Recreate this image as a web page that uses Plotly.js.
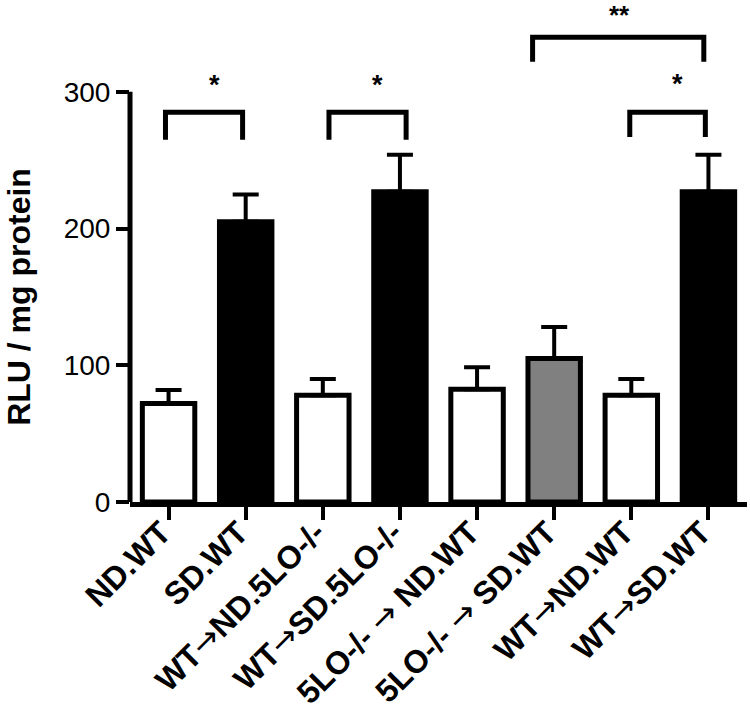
<!DOCTYPE html>
<html>
<head>
<meta charset="utf-8">
<script src="https://cdn.plot.ly/plotly-3.0.1.min.js"></script>
<style>html,body{margin:0;padding:0;background:#fff;}#chart{width:750px;height:713px;}</style>
</head>
<body>
<div id="chart"></div>
<script>
// ---- data ----
var categories = ["ND.WT", "SD.WT", "WT→ND.5LO-/-", "WT→SD.5LO-/-", "5LO-/- → ND.WT", "5LO-/- → SD.WT", "WT→ND.WT", "WT→SD.WT"];
var values = [72, 205, 78, 227, 82.5, 105, 78, 227];
var errors = [10, 20, 12, 27, 16, 23, 12, 27];
var barColors = ["#ffffff", "#000000", "#ffffff", "#000000", "#ffffff", "#808080", "#ffffff", "#000000"];
var yTicks = [0, 100, 200, 300];
// significance brackets
var sigFrom = [-0.04, 2.08, 5.98, 4.72];
var sigTo = [0.96, 3.08, 6.96, 6.94];
var sigTop = [285, 285, 285, 340];
var sigLeg = [265, 265, 267, 322];
var sigLabel = ["*", "*", "*", "**"];
var sigLabelX = [0.6, 2.71, 6.6, 5.85];
var sigLabelY = [305, 305, 306, 359];

var FONT = "Liberation Sans, Arial, Helvetica, sans-serif";

function tickText(s) {
  return s.split("→").map(function (p) { return "<b>" + p + "</b>"; })
    .join('<span style="font-family:DejaVu Sans;font-size:32px;font-weight:normal">→</span>');
}

var xIdx = categories.map(function (_, i) { return i; });

var trace = {
  type: "bar",
  x: xIdx,
  y: values,
  width: 0.68,
  marker: { color: barColors, line: { color: "#000", width: 5 } },
  error_y: {
    type: "data", symmetric: false, array: errors,
    arrayminus: values.map(function () { return 0; }),
    color: "#000", thickness: 4, width: 13
  },
  hoverinfo: "none"
};

var shapes = [];
shapes.push({ type: "line", xref: "paper", yref: "y", x0: 0, x1: 0, y0: 0, y1: yTicks[yTicks.length - 1], line: { color: "#000", width: 5 } });
var annotations = [];
for (var i = 0; i < sigFrom.length; i++) {
  shapes.push({ type: "path", xref: "x", yref: "y",
    path: "M " + sigFrom[i] + "," + sigLeg[i] + " L " + sigFrom[i] + "," + sigTop[i] + " L " + sigTo[i] + "," + sigTop[i] + " L " + sigTo[i] + "," + sigLeg[i],
    line: { color: "#000", width: 5 } });
  annotations.push({ xref: "x", yref: "y", x: sigLabelX[i], y: sigLabelY[i], text: sigLabel[i], showarrow: false,
    xanchor: "center", yanchor: "middle", yshift: (i === 3 ? -4 : 0),
    font: { family: FONT, size: (i === 3 ? 26 : 27), color: "#000", weight: "bold" } });
}
annotations.push({ xref: "paper", yref: "y", x: -0.18, y: 150, text: "<b>RLU / mg protein</b>", textangle: -90,
  showarrow: false, xanchor: "center", yanchor: "middle", font: { family: FONT, size: 32, color: "#000" } });

var layout = {
  width: 750, height: 713,
  margin: { l: 130, r: 3, t: 3, b: 211 },
  paper_bgcolor: "#fff", plot_bgcolor: "#fff",
  showlegend: false,
  font: { family: FONT, color: "#000" },
  xaxis: {
    range: [-0.5, 7.5], tickmode: "array", tickvals: xIdx, ticktext: categories.map(tickText),
    tickangle: -45, ticks: "outside", ticklen: 13, tickwidth: 4, tickcolor: "#000",
    ticklabelstandoff: -19, ticklabelshift: -7,
    showline: true, linewidth: 5, linecolor: "#000", showgrid: false, zeroline: false,
    tickfont: { family: FONT, size: 32, color: "#000" }, fixedrange: true
  },
  yaxis: {
    range: [0, 365], tickmode: "array", tickvals: yTicks,
    ticks: "outside", ticklen: 13, tickwidth: 4, tickcolor: "#000",
    showline: false, showgrid: false, zeroline: false,
    tickfont: { family: FONT, size: 28, color: "#000" }, fixedrange: true
  },
  shapes: shapes,
  annotations: annotations
};

Plotly.newPlot("chart", [trace], layout, { displayModeBar: false, staticPlot: true });
</script>
</body>
</html>
